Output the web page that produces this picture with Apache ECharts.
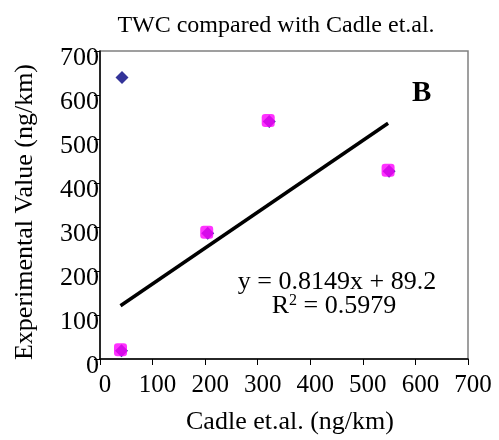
<!DOCTYPE html>
<html><head><meta charset="utf-8">
<script src="https://cdn.jsdelivr.net/npm/echarts@6/dist/echarts.min.js"></script>
<style>html,body{margin:0;padding:0;background:#fff}#c{width:499px;height:440px}</style>
</head><body><div id="c"></div>
<script>
const cadle = [39, 203, 320, 548];
const experimental = [21, 288, 542, 429];
const allCadle = [40, 39, 203, 320, 548];
const allExperimental = [642, 21, 288, 542, 429];
const trendSlope = 0.8149;
const trendIntercept = 89.2;
const trendRange = [39, 548];
const ticks = [0, 100, 200, 300, 400, 500, 600, 700];

const F = 'Liberation Serif, Times New Roman, serif';
const chart = echarts.init(document.getElementById('c'));
chart.setOption({
  animation: false,
  title: {text: 'TWC compared with Cadle et.al.', left: 271, top: 9, textAlign: 'center',
    textStyle: {fontFamily: F, fontWeight: 'normal', fontSize: 24, color: '#000'}},
  grid: {left: 100, right: 31, top: 51, bottom: 80, show: true, borderColor: '#808080', borderWidth: 1.5},
  xAxis: {type: 'value', min: 0, max: 700, interval: 100,
    name: 'Cadle et.al. (ng/km)', nameLocation: 'middle', nameGap: 50,
    nameTextStyle: {fontFamily: F, fontSize: 26, color: '#000', padding: [0, 0, 0, 12]},
    axisLine: {show: true, lineStyle: {color: '#000', width: 1.5}},
    axisTick: {show: true, length: 6, lineStyle: {color: '#000'}},
    splitLine: {show: false},
    axisLabel: {fontFamily: F, fontSize: 25, color: '#000', margin: 14, padding: [0, 0, 0, 10],
      formatter: v => ticks.includes(v) ? String(v) : ''}},
  yAxis: {type: 'value', min: 0, max: 700, interval: 100,
    name: 'Experimental Value (ng/km)', nameLocation: 'middle', nameGap: 62,
    nameTextStyle: {fontFamily: F, fontSize: 26, color: '#000', padding: [0, 14, 0, 0]},
    axisLine: {show: true, lineStyle: {color: '#000', width: 1.5}},
    axisTick: {show: true, length: 6, lineStyle: {color: '#000'}},
    splitLine: {show: false},
    axisLabel: {color: '#000', margin: 1,
      formatter: v => ticks.includes(v) ? '{a|' + v + '}' : '',
      rich: {a: {fontFamily: F, fontSize: 26, color: '#000', padding: [14, 0, 0, 0]}}}},
  series: [
    {type: 'line', data: trendRange.map(x => [x, trendSlope * x + trendIntercept]),
      symbol: 'none', lineStyle: {color: '#000', width: 3.5}, z: 1},
    {type: 'scatter', data: allCadle.map((x, i) => [x, allExperimental[i]]),
      symbol: 'diamond', symbolSize: 13, symbolOffset: [1, 1], itemStyle: {color: '#000080'}, z: 2},
    {type: 'scatter', data: cadle.map((x, i) => [x, experimental[i]]),
      symbol: 'roundRect', symbolSize: 13, itemStyle: {color: '#ff00ff'}, z: 3}
  ],
  graphic: [
    {type: 'text', left: 412, top: 79, style: {text: 'B', font: 'bold 29px ' + F, fill: '#000'}},
    {type: 'text', x: 337, y: 282, style: {text: 'y = 0.8149x + 89.2', font: '26px ' + F, fill: '#000', align: 'center', verticalAlign: 'middle'}},
    {type: 'text', x: 334, y: 306, style: {
      text: '{a|R}{s|2}{a| = 0.5979}', align: 'center', verticalAlign: 'middle',
      rich: {a: {fontFamily: F, fontSize: 26, fill: '#000'}, s: {fontFamily: F, fontSize: 16, fill: '#000', verticalAlign: 'top', padding: [0, 0, 10, 0]}}}}
  ]
});
</script></body></html>
